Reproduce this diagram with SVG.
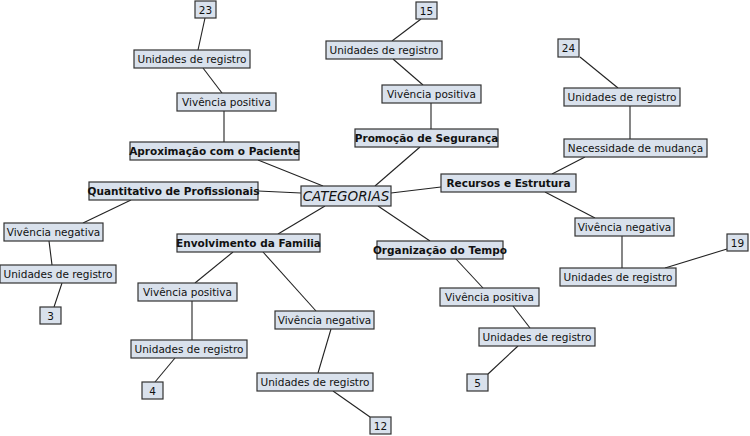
<svg xmlns="http://www.w3.org/2000/svg" width="750" height="436" viewBox="0 0 750 436">
<style>
rect{fill:#d9e1ec;stroke:#333;stroke-width:1.2}
.sh{fill:#999;stroke:none}
text{font-family:"DejaVu Sans",Verdana,sans-serif;font-size:10.5px;fill:#111;text-anchor:middle}
.b{font-weight:bold}
.c{font-style:italic;font-size:13.5px}
#edges line{stroke:#222;stroke-width:1.1}
</style>
<rect width="750" height="436" style="fill:#fff;stroke:none"/>
<g id="edges">
<line x1="205" y1="18" x2="198" y2="50"/>
<line x1="203" y1="68" x2="222" y2="93"/>
<line x1="224" y1="111" x2="224" y2="142"/>
<line x1="258" y1="160" x2="323" y2="186"/>
<line x1="258" y1="191" x2="301" y2="193"/>
<line x1="131" y1="200" x2="83" y2="223"/>
<line x1="49" y1="241" x2="52" y2="265"/>
<line x1="62" y1="283" x2="54" y2="307"/>
<line x1="325" y1="206" x2="278" y2="234"/>
<line x1="233" y1="252" x2="195" y2="283"/>
<line x1="263" y1="252" x2="316" y2="311"/>
<line x1="192" y1="301" x2="192" y2="340"/>
<line x1="175" y1="358" x2="155" y2="382"/>
<line x1="331" y1="329" x2="318" y2="373"/>
<line x1="333" y1="391" x2="370" y2="417"/>
<line x1="378" y1="206" x2="430" y2="241"/>
<line x1="456" y1="259" x2="483" y2="288"/>
<line x1="513" y1="306" x2="530" y2="328"/>
<line x1="518" y1="346" x2="488" y2="374"/>
<line x1="375" y1="186" x2="420" y2="147"/>
<line x1="431" y1="129" x2="431" y2="103"/>
<line x1="423" y1="85" x2="393" y2="59"/>
<line x1="392" y1="41" x2="421" y2="19"/>
<line x1="391" y1="193" x2="441" y2="187"/>
<line x1="552" y1="174" x2="585" y2="157"/>
<line x1="630" y1="139" x2="630" y2="106"/>
<line x1="618" y1="88" x2="580" y2="57"/>
<line x1="545" y1="192" x2="595" y2="218"/>
<line x1="622" y1="236" x2="622" y2="268"/>
<line x1="665" y1="268" x2="727" y2="249"/>
</g>
<g id="n23"><rect x="195" y="1" width="21" height="17"/><text x="205.5" y="14">23</text></g>
<g id="u1"><rect x="134" y="50" width="116" height="18"/><text x="192" y="63">Unidades de registro</text></g>
<g id="vp1"><rect x="177" y="93" width="99" height="18"/><text x="226.5" y="106">Vivência positiva</text></g>
<g id="aprox"><rect x="130" y="142" width="169" height="18"/><text class="b" x="214.5" y="155">Aproximação com o Paciente</text></g>
<g id="quant"><rect x="89" y="182" width="169" height="18"/><text class="b" x="173.5" y="195">Quantitativo de Profissionais</text></g>
<g id="cat"><rect x="301" y="186" width="90" height="20"/><text class="c" x="346" y="201">CATEGORIAS</text></g>
<g id="n15"><rect x="416" y="2" width="21" height="17"/><text x="426.5" y="15">15</text></g>
<g id="u2"><rect x="326" y="41" width="116" height="18"/><text x="384" y="54">Unidades de registro</text></g>
<g id="vp2"><rect x="382" y="85" width="99" height="18"/><text x="431.5" y="98">Vivência positiva</text></g>
<g id="prom"><rect x="355" y="129" width="143" height="18"/><text class="b" x="426.5" y="142">Promoção de Segurança</text></g>
<g id="n24"><rect x="558" y="39" width="21" height="18"/><text x="568.5" y="52">24</text></g>
<g id="u3"><rect x="564" y="88" width="116" height="18"/><text x="622" y="101">Unidades de registro</text></g>
<g id="nec"><rect x="564" y="139" width="143" height="18"/><text x="635.5" y="152">Necessidade de mudança</text></g>
<g id="rec"><rect x="441" y="174" width="135" height="18"/><text class="b" x="508.5" y="187">Recursos e Estrutura</text></g>
<g id="vn1"><rect x="575" y="218" width="99" height="18"/><text x="624.5" y="231">Vivência negativa</text></g>
<g id="n19"><rect x="727" y="234" width="21" height="17"/><text x="737.5" y="247">19</text></g>
<g id="u4"><rect x="560" y="268" width="116" height="18"/><text x="618" y="281">Unidades de registro</text></g>
<g id="vn2"><rect x="4" y="223" width="99" height="18"/><text x="53.5" y="236">Vivência negativa</text></g>
<g id="u5"><rect x="0" y="265" width="116" height="18"/><text x="58" y="278">Unidades de registro</text></g>
<g id="n3"><rect x="40" y="307" width="21" height="17"/><text x="50.5" y="320">3</text></g>
<g id="env"><rect x="177" y="234" width="143" height="18"/><text class="b" x="248.5" y="247">Envolvimento da Familia</text></g>
<g id="vp3"><rect x="138" y="283" width="99" height="18"/><text x="187.5" y="296">Vivência positiva</text></g>
<g id="u6"><rect x="131" y="340" width="116" height="18"/><text x="189" y="353">Unidades de registro</text></g>
<g id="n4"><rect x="142" y="382" width="21" height="17"/><text x="152.5" y="395">4</text></g>
<g id="vn3"><rect x="275" y="311" width="99" height="18"/><text x="324.5" y="324">Vivência negativa</text></g>
<g id="u7"><rect x="257" y="373" width="116" height="18"/><text x="315" y="386">Unidades de registro</text></g>
<g id="n12"><rect x="370" y="417" width="21" height="17"/><text x="380.5" y="430">12</text></g>
<g id="org"><rect x="377" y="241" width="126" height="18"/><text class="b" x="440" y="254">Organização do Tempo</text></g>
<g id="vp4"><rect x="440" y="288" width="99" height="18"/><text x="489.5" y="301">Vivência positiva</text></g>
<g id="u8"><rect x="479" y="328" width="116" height="18"/><text x="537" y="341">Unidades de registro</text></g>
<g id="n5"><rect x="467" y="374" width="21" height="17"/><text x="477.5" y="387">5</text></g>
</svg>
